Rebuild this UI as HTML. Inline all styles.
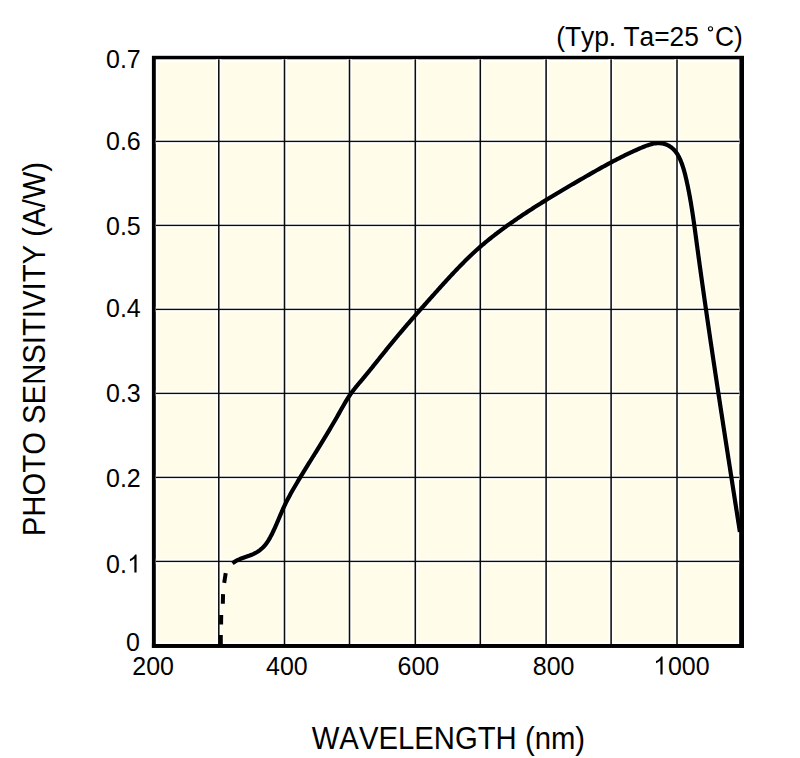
<!DOCTYPE html>
<html><head><meta charset="utf-8"><style>
html,body{margin:0;padding:0;background:#fff;width:800px;height:758px;overflow:hidden}
svg{display:block}
text{font-family:'Liberation Sans', sans-serif;fill:#000;font-kerning:none}
</style></head><body>
<svg width="800" height="758" viewBox="0 0 800 758">
<rect x="151.9" y="55.8" width="592.10" height="592.00" fill="#000"/>
<rect x="155.8" y="59.3" width="583.60" height="584.70" fill="#fff"/>
<rect x="157.9" y="61.9" width="579.10" height="580.00" fill="#FFFCE9"/>
<rect x="216.20" y="59.3" width="5.2" height="584.70" fill="#fff"/>
<rect x="281.90" y="59.3" width="5.2" height="584.70" fill="#fff"/>
<rect x="346.90" y="59.3" width="5.2" height="584.70" fill="#fff"/>
<rect x="412.70" y="59.3" width="5.2" height="584.70" fill="#fff"/>
<rect x="477.70" y="59.3" width="5.2" height="584.70" fill="#fff"/>
<rect x="543.50" y="59.3" width="5.2" height="584.70" fill="#fff"/>
<rect x="608.50" y="59.3" width="5.2" height="584.70" fill="#fff"/>
<rect x="674.40" y="59.3" width="5.2" height="584.70" fill="#fff"/>
<rect x="155.8" y="138.80" width="583.60" height="5.2" fill="#fff"/>
<rect x="155.8" y="222.80" width="583.60" height="5.2" fill="#fff"/>
<rect x="155.8" y="306.80" width="583.60" height="5.2" fill="#fff"/>
<rect x="155.8" y="390.80" width="583.60" height="5.2" fill="#fff"/>
<rect x="155.8" y="474.80" width="583.60" height="5.2" fill="#fff"/>
<rect x="155.8" y="558.80" width="583.60" height="5.2" fill="#fff"/>
<path d="M232.47 563.36 L233.60 562.47 L234.78 561.66 L236.00 560.93 L237.27 560.25 L238.58 559.63 L239.91 559.06 L241.27 558.52 L242.65 558.01 L244.05 557.51 L245.45 557.03 L246.85 556.54 L248.26 556.05 L249.65 555.55 L251.02 555.01 L252.38 554.45 L253.71 553.84 L255.02 553.19 L256.29 552.48 L257.52 551.73 L258.73 550.94 L259.89 550.09 L261.01 549.20 L262.09 548.26 L263.13 547.27 L264.12 546.23 L265.07 545.14 L265.97 544.01 L266.82 542.83 L267.64 541.63 L268.43 540.39 L269.19 539.13 L269.92 537.85 L270.62 536.55 L271.31 535.24 L271.98 533.93 L272.63 532.61 L273.27 531.28 L273.90 529.95 L274.51 528.62 L275.11 527.28 L275.71 525.94 L276.30 524.59 L276.88 523.25 L277.45 521.90 L278.03 520.55 L278.60 519.20 L279.16 517.85 L279.73 516.50 L280.30 515.15 L280.88 513.81 L281.46 512.46 L282.04 511.12 L282.63 509.79 L283.23 508.46 L283.84 507.13 L284.46 505.80 L285.09 504.49 L285.73 503.17 L286.38 501.87 L287.04 500.56 L287.71 499.27 L288.39 497.97 L289.07 496.68 L289.77 495.39 L290.47 494.11 L291.18 492.83 L291.90 491.56 L292.62 490.28 L293.35 489.02 L294.08 487.75 L294.82 486.48 L295.56 485.22 L296.30 483.96 L297.05 482.70 L297.81 481.45 L298.56 480.19 L299.32 478.94 L300.08 477.69 L300.84 476.44 L301.60 475.19 L302.36 473.94 L303.13 472.69 L303.89 471.44 L304.66 470.20 L305.42 468.95 L306.19 467.70 L306.96 466.46 L307.73 465.21 L308.49 463.97 L309.26 462.73 L310.03 461.48 L310.80 460.24 L311.57 459.00 L312.34 457.75 L313.11 456.51 L313.88 455.27 L314.65 454.02 L315.42 452.78 L316.19 451.54 L316.96 450.29 L317.72 449.05 L318.49 447.81 L319.26 446.56 L320.03 445.32 L320.79 444.07 L321.56 442.83 L322.32 441.58 L323.08 440.33 L323.84 439.08 L324.60 437.83 L325.36 436.58 L326.12 435.33 L326.88 434.08 L327.63 432.83 L328.38 431.58 L329.14 430.32 L329.89 429.07 L330.63 427.81 L331.38 426.55 L332.12 425.29 L332.87 424.03 L333.61 422.77 L334.34 421.50 L335.08 420.24 L335.81 418.97 L336.55 417.70 L337.27 416.43 L338.00 415.16 L338.72 413.88 L339.44 412.61 L340.16 411.33 L340.88 410.05 L341.60 408.77 L342.32 407.50 L343.05 406.23 L343.78 404.96 L344.51 403.69 L345.26 402.43 L346.01 401.18 L346.77 399.93 L347.54 398.69 L348.33 397.46 L349.13 396.24 L349.94 395.03 L350.77 393.84 L351.61 392.65 L352.47 391.48 L353.35 390.32 L354.24 389.16 L355.14 388.02 L356.06 386.88 L356.98 385.75 L357.91 384.62 L358.84 383.50 L359.78 382.38 L360.72 381.27 L361.66 380.15 L362.61 379.03 L363.55 377.91 L364.48 376.79 L365.42 375.66 L366.35 374.53 L367.28 373.40 L368.21 372.27 L369.14 371.13 L370.06 370.00 L370.98 368.86 L371.90 367.72 L372.82 366.58 L373.74 365.44 L374.66 364.30 L375.57 363.15 L376.49 362.01 L377.40 360.86 L378.32 359.72 L379.23 358.57 L380.15 357.43 L381.06 356.28 L381.97 355.14 L382.89 353.99 L383.80 352.85 L384.72 351.71 L385.64 350.57 L386.55 349.42 L387.47 348.28 L388.39 347.15 L389.31 346.01 L390.24 344.87 L391.16 343.74 L392.09 342.61 L393.02 341.48 L393.95 340.35 L394.88 339.23 L395.81 338.10 L396.75 336.98 L397.68 335.86 L398.62 334.74 L399.56 333.62 L400.51 332.51 L401.45 331.39 L402.40 330.28 L403.34 329.17 L404.29 328.06 L405.24 326.95 L406.19 325.84 L407.14 324.74 L408.10 323.63 L409.05 322.53 L410.01 321.43 L410.97 320.32 L411.93 319.22 L412.89 318.12 L413.85 317.02 L414.81 315.93 L415.77 314.83 L416.74 313.73 L417.70 312.64 L418.67 311.54 L419.63 310.45 L420.60 309.35 L421.57 308.26 L422.54 307.16 L423.51 306.07 L424.48 304.98 L425.45 303.89 L426.42 302.79 L427.40 301.70 L428.37 300.61 L429.34 299.52 L430.32 298.42 L431.29 297.33 L432.26 296.24 L433.24 295.15 L434.22 294.06 L435.19 292.96 L436.17 291.87 L437.15 290.78 L438.12 289.69 L439.10 288.60 L440.08 287.51 L441.06 286.42 L442.05 285.33 L443.03 284.24 L444.02 283.16 L445.00 282.07 L445.99 280.99 L446.98 279.91 L447.97 278.83 L448.97 277.75 L449.96 276.67 L450.96 275.60 L451.96 274.53 L452.96 273.46 L453.97 272.39 L454.97 271.33 L455.98 270.27 L456.99 269.21 L458.01 268.15 L459.03 267.10 L460.05 266.05 L461.07 265.00 L462.10 263.96 L463.13 262.92 L464.16 261.89 L465.20 260.86 L466.24 259.83 L467.28 258.81 L468.33 257.79 L469.38 256.78 L470.44 255.77 L471.50 254.76 L472.56 253.76 L473.63 252.77 L474.70 251.78 L475.78 250.79 L476.86 249.81 L477.94 248.84 L479.03 247.87 L480.13 246.91 L481.23 245.95 L482.33 245.00 L483.44 244.06 L484.56 243.12 L485.68 242.18 L486.80 241.25 L487.93 240.33 L489.06 239.41 L490.20 238.50 L491.34 237.59 L492.48 236.68 L493.63 235.79 L494.78 234.89 L495.94 234.00 L497.10 233.12 L498.26 232.23 L499.43 231.36 L500.60 230.48 L501.77 229.61 L502.95 228.75 L504.13 227.89 L505.31 227.03 L506.49 226.17 L507.68 225.32 L508.87 224.48 L510.06 223.63 L511.26 222.79 L512.46 221.95 L513.66 221.11 L514.86 220.28 L516.07 219.45 L517.28 218.63 L518.49 217.80 L519.70 216.98 L520.91 216.16 L522.13 215.35 L523.35 214.54 L524.57 213.73 L525.79 212.92 L527.01 212.12 L528.24 211.31 L529.47 210.51 L530.70 209.72 L531.93 208.92 L533.16 208.13 L534.40 207.34 L535.64 206.55 L536.87 205.77 L538.11 204.99 L539.35 204.21 L540.60 203.43 L541.84 202.65 L543.09 201.88 L544.33 201.11 L545.58 200.34 L546.83 199.57 L548.08 198.80 L549.33 198.04 L550.58 197.28 L551.83 196.52 L553.09 195.76 L554.34 195.00 L555.60 194.24 L556.85 193.49 L558.11 192.74 L559.37 191.99 L560.62 191.24 L561.88 190.49 L563.14 189.75 L564.40 189.00 L565.66 188.26 L566.92 187.52 L568.18 186.78 L569.44 186.04 L570.70 185.30 L571.96 184.56 L573.23 183.82 L574.49 183.09 L575.75 182.36 L577.01 181.62 L578.27 180.89 L579.53 180.16 L580.79 179.43 L582.05 178.70 L583.31 177.97 L584.57 177.24 L585.83 176.52 L587.09 175.79 L588.35 175.07 L589.61 174.34 L590.87 173.62 L592.14 172.90 L593.40 172.18 L594.66 171.46 L595.92 170.75 L597.19 170.03 L598.46 169.32 L599.72 168.61 L600.99 167.90 L602.26 167.20 L603.53 166.49 L604.81 165.79 L606.08 165.09 L607.36 164.40 L608.64 163.70 L609.92 163.01 L611.21 162.33 L612.50 161.64 L613.79 160.96 L615.08 160.28 L616.38 159.61 L617.68 158.94 L618.98 158.27 L620.29 157.61 L621.60 156.95 L622.91 156.29 L624.23 155.64 L625.55 154.99 L626.87 154.35 L628.20 153.71 L629.54 153.07 L630.88 152.44 L632.22 151.82 L633.57 151.19 L634.92 150.58 L636.28 149.97 L637.64 149.36 L639.01 148.76 L640.38 148.16 L641.76 147.57 L643.14 147.00 L644.53 146.44 L645.92 145.90 L647.32 145.39 L648.71 144.92 L650.11 144.50 L651.51 144.12 L652.91 143.79 L654.32 143.53 L655.72 143.33 L657.12 143.20 L658.52 143.16 L659.91 143.20 L661.31 143.32 L662.70 143.55 L664.08 143.88 L665.45 144.30 L666.80 144.82 L668.12 145.43 L669.40 146.13 L670.63 146.91 L671.80 147.78 L672.92 148.73 L673.97 149.75 L674.95 150.84 L675.87 151.98 L676.73 153.18 L677.53 154.42 L678.28 155.70 L678.97 157.02 L679.63 158.35 L680.24 159.71 L680.82 161.08 L681.37 162.46 L681.89 163.84 L682.38 165.23 L682.85 166.62 L683.30 168.02 L683.72 169.42 L684.13 170.82 L684.52 172.23 L684.89 173.65 L685.25 175.06 L685.59 176.48 L685.93 177.90 L686.26 179.32 L686.58 180.74 L686.90 182.17 L687.20 183.59 L687.51 185.02 L687.81 186.44 L688.10 187.87 L688.39 189.30 L688.67 190.73 L688.95 192.17 L689.22 193.60 L689.49 195.03 L689.75 196.47 L690.01 197.90 L690.27 199.34 L690.52 200.78 L690.76 202.22 L691.01 203.65 L691.25 205.09 L691.48 206.53 L691.71 207.98 L691.94 209.42 L692.17 210.86 L692.39 212.30 L692.61 213.75 L692.83 215.19 L693.05 216.64 L693.26 218.08 L693.47 219.53 L693.68 220.98 L693.89 222.42 L694.09 223.87 L694.29 225.32 L694.50 226.77 L694.70 228.21 L694.90 229.66 L695.09 231.11 L695.29 232.56 L695.49 234.01 L695.68 235.46 L695.88 236.91 L696.07 238.36 L696.27 239.81 L696.46 241.26 L696.66 242.71 L696.85 244.16 L697.05 245.61 L697.25 247.05 L697.44 248.50 L697.64 249.95 L697.84 251.40 L698.03 252.85 L698.23 254.30 L698.43 255.75 L698.63 257.20 L698.83 258.65 L699.03 260.10 L699.22 261.55 L699.42 263.00 L699.62 264.44 L699.82 265.89 L700.02 267.34 L700.23 268.79 L700.43 270.24 L700.63 271.69 L700.83 273.14 L701.03 274.59 L701.23 276.03 L701.44 277.48 L701.64 278.93 L701.84 280.38 L702.04 281.83 L702.25 283.28 L702.45 284.72 L702.66 286.17 L702.86 287.62 L703.07 289.07 L703.27 290.52 L703.48 291.97 L703.68 293.41 L703.89 294.86 L704.09 296.31 L704.30 297.76 L704.51 299.21 L704.71 300.65 L704.92 302.10 L705.13 303.55 L705.33 305.00 L705.54 306.45 L705.75 307.89 L705.96 309.34 L706.17 310.79 L706.38 312.24 L706.58 313.68 L706.79 315.13 L707.00 316.58 L707.21 318.03 L707.42 319.47 L707.63 320.92 L707.84 322.37 L708.06 323.82 L708.27 325.26 L708.48 326.71 L708.69 328.16 L708.90 329.61 L709.11 331.05 L709.32 332.50 L709.54 333.95 L709.75 335.39 L709.96 336.84 L710.17 338.29 L710.39 339.74 L710.60 341.18 L710.81 342.63 L711.03 344.08 L711.24 345.52 L711.46 346.97 L711.67 348.42 L711.89 349.86 L712.10 351.31 L712.31 352.76 L712.53 354.20 L712.75 355.65 L712.96 357.10 L713.18 358.54 L713.39 359.99 L713.61 361.44 L713.83 362.88 L714.04 364.33 L714.26 365.78 L714.47 367.22 L714.69 368.67 L714.91 370.12 L715.13 371.56 L715.34 373.01 L715.56 374.46 L715.78 375.90 L716.00 377.35 L716.22 378.79 L716.43 380.24 L716.65 381.69 L716.87 383.13 L717.09 384.58 L717.31 386.03 L717.53 387.47 L717.75 388.92 L717.97 390.36 L718.19 391.81 L718.41 393.26 L718.63 394.70 L718.85 396.15 L719.07 397.59 L719.29 399.04 L719.51 400.49 L719.73 401.93 L719.95 403.38 L720.17 404.82 L720.39 406.27 L720.61 407.72 L720.83 409.16 L721.05 410.61 L721.28 412.05 L721.50 413.50 L721.72 414.94 L721.94 416.39 L722.16 417.84 L722.38 419.28 L722.61 420.73 L722.83 422.17 L723.05 423.62 L723.27 425.06 L723.50 426.51 L723.72 427.96 L723.94 429.40 L724.16 430.85 L724.39 432.29 L724.61 433.74 L724.83 435.18 L725.06 436.63 L725.28 438.07 L725.50 439.52 L725.73 440.97 L725.95 442.41 L726.18 443.86 L726.40 445.30 L726.62 446.75 L726.85 448.19 L727.07 449.64 L727.30 451.08 L727.52 452.53 L727.74 453.97 L727.97 455.42 L728.19 456.86 L728.42 458.31 L728.64 459.76 L728.87 461.20 L729.09 462.65 L729.32 464.09 L729.54 465.54 L729.77 466.98 L729.99 468.43 L730.22 469.87 L730.44 471.32 L730.67 472.76 L730.89 474.21 L731.12 475.65 L731.34 477.10 L731.57 478.54 L731.79 479.99 L732.02 481.43 L732.24 482.88 L732.47 484.32 L732.69 485.77 L732.92 487.21 L733.14 488.66 L733.37 490.11 L733.59 491.55 L733.82 493.00 L734.05 494.44 L734.27 495.89 L734.50 497.33 L734.72 498.78 L734.95 500.22 L735.17 501.67 L735.40 503.11 L735.63 504.56 L735.85 506.00 L736.08 507.45 L736.30 508.89 L736.53 510.34 L736.75 511.78 L736.98 513.23 L737.21 514.67 L737.43 516.12 L737.66 517.56 L737.88 519.01 L738.11 520.45 L738.33 521.90 L738.56 523.34 L738.79 524.79 L739.01 526.23 L739.24 527.68 L739.46 529.12 L739.69 530.57 L739.91 532.01" fill="none" stroke="#fff" stroke-width="6.800000000000001" stroke-linejoin="round"/>
<line x1="225.7" y1="573.1" x2="224.2" y2="582.9" stroke="#fff" stroke-width="6.6"/>
<line x1="223.05" y1="594.1" x2="222.85" y2="603.7" stroke="#fff" stroke-width="6.6"/>
<line x1="221.2" y1="614.9" x2="221.1" y2="624.4" stroke="#fff" stroke-width="6.6"/>
<line x1="220.8" y1="635.0" x2="220.8" y2="645.0" stroke="#fff" stroke-width="6.6"/>
<rect x="218.03" y="59.3" width="1.54" height="584.70" fill="#0c0c06"/>
<rect x="283.73" y="59.3" width="1.54" height="584.70" fill="#0c0c06"/>
<rect x="348.73" y="59.3" width="1.54" height="584.70" fill="#0c0c06"/>
<rect x="414.53" y="59.3" width="1.54" height="584.70" fill="#0c0c06"/>
<rect x="479.53" y="59.3" width="1.54" height="584.70" fill="#0c0c06"/>
<rect x="545.33" y="59.3" width="1.54" height="584.70" fill="#0c0c06"/>
<rect x="610.33" y="59.3" width="1.54" height="584.70" fill="#0c0c06"/>
<rect x="676.23" y="59.3" width="1.54" height="584.70" fill="#0c0c06"/>
<rect x="155.8" y="140.72" width="583.60" height="1.36" fill="#0c0c06"/>
<rect x="155.8" y="224.72" width="583.60" height="1.36" fill="#0c0c06"/>
<rect x="155.8" y="308.72" width="583.60" height="1.36" fill="#0c0c06"/>
<rect x="155.8" y="392.72" width="583.60" height="1.36" fill="#0c0c06"/>
<rect x="155.8" y="476.72" width="583.60" height="1.36" fill="#0c0c06"/>
<rect x="155.8" y="560.72" width="583.60" height="1.36" fill="#0c0c06"/>
<path d="M232.47 563.36 L233.60 562.47 L234.78 561.66 L236.00 560.93 L237.27 560.25 L238.58 559.63 L239.91 559.06 L241.27 558.52 L242.65 558.01 L244.05 557.51 L245.45 557.03 L246.85 556.54 L248.26 556.05 L249.65 555.55 L251.02 555.01 L252.38 554.45 L253.71 553.84 L255.02 553.19 L256.29 552.48 L257.52 551.73 L258.73 550.94 L259.89 550.09 L261.01 549.20 L262.09 548.26 L263.13 547.27 L264.12 546.23 L265.07 545.14 L265.97 544.01 L266.82 542.83 L267.64 541.63 L268.43 540.39 L269.19 539.13 L269.92 537.85 L270.62 536.55 L271.31 535.24 L271.98 533.93 L272.63 532.61 L273.27 531.28 L273.90 529.95 L274.51 528.62 L275.11 527.28 L275.71 525.94 L276.30 524.59 L276.88 523.25 L277.45 521.90 L278.03 520.55 L278.60 519.20 L279.16 517.85 L279.73 516.50 L280.30 515.15 L280.88 513.81 L281.46 512.46 L282.04 511.12 L282.63 509.79 L283.23 508.46 L283.84 507.13 L284.46 505.80 L285.09 504.49 L285.73 503.17 L286.38 501.87 L287.04 500.56 L287.71 499.27 L288.39 497.97 L289.07 496.68 L289.77 495.39 L290.47 494.11 L291.18 492.83 L291.90 491.56 L292.62 490.28 L293.35 489.02 L294.08 487.75 L294.82 486.48 L295.56 485.22 L296.30 483.96 L297.05 482.70 L297.81 481.45 L298.56 480.19 L299.32 478.94 L300.08 477.69 L300.84 476.44 L301.60 475.19 L302.36 473.94 L303.13 472.69 L303.89 471.44 L304.66 470.20 L305.42 468.95 L306.19 467.70 L306.96 466.46 L307.73 465.21 L308.49 463.97 L309.26 462.73 L310.03 461.48 L310.80 460.24 L311.57 459.00 L312.34 457.75 L313.11 456.51 L313.88 455.27 L314.65 454.02 L315.42 452.78 L316.19 451.54 L316.96 450.29 L317.72 449.05 L318.49 447.81 L319.26 446.56 L320.03 445.32 L320.79 444.07 L321.56 442.83 L322.32 441.58 L323.08 440.33 L323.84 439.08 L324.60 437.83 L325.36 436.58 L326.12 435.33 L326.88 434.08 L327.63 432.83 L328.38 431.58 L329.14 430.32 L329.89 429.07 L330.63 427.81 L331.38 426.55 L332.12 425.29 L332.87 424.03 L333.61 422.77 L334.34 421.50 L335.08 420.24 L335.81 418.97 L336.55 417.70 L337.27 416.43 L338.00 415.16 L338.72 413.88 L339.44 412.61 L340.16 411.33 L340.88 410.05 L341.60 408.77 L342.32 407.50 L343.05 406.23 L343.78 404.96 L344.51 403.69 L345.26 402.43 L346.01 401.18 L346.77 399.93 L347.54 398.69 L348.33 397.46 L349.13 396.24 L349.94 395.03 L350.77 393.84 L351.61 392.65 L352.47 391.48 L353.35 390.32 L354.24 389.16 L355.14 388.02 L356.06 386.88 L356.98 385.75 L357.91 384.62 L358.84 383.50 L359.78 382.38 L360.72 381.27 L361.66 380.15 L362.61 379.03 L363.55 377.91 L364.48 376.79 L365.42 375.66 L366.35 374.53 L367.28 373.40 L368.21 372.27 L369.14 371.13 L370.06 370.00 L370.98 368.86 L371.90 367.72 L372.82 366.58 L373.74 365.44 L374.66 364.30 L375.57 363.15 L376.49 362.01 L377.40 360.86 L378.32 359.72 L379.23 358.57 L380.15 357.43 L381.06 356.28 L381.97 355.14 L382.89 353.99 L383.80 352.85 L384.72 351.71 L385.64 350.57 L386.55 349.42 L387.47 348.28 L388.39 347.15 L389.31 346.01 L390.24 344.87 L391.16 343.74 L392.09 342.61 L393.02 341.48 L393.95 340.35 L394.88 339.23 L395.81 338.10 L396.75 336.98 L397.68 335.86 L398.62 334.74 L399.56 333.62 L400.51 332.51 L401.45 331.39 L402.40 330.28 L403.34 329.17 L404.29 328.06 L405.24 326.95 L406.19 325.84 L407.14 324.74 L408.10 323.63 L409.05 322.53 L410.01 321.43 L410.97 320.32 L411.93 319.22 L412.89 318.12 L413.85 317.02 L414.81 315.93 L415.77 314.83 L416.74 313.73 L417.70 312.64 L418.67 311.54 L419.63 310.45 L420.60 309.35 L421.57 308.26 L422.54 307.16 L423.51 306.07 L424.48 304.98 L425.45 303.89 L426.42 302.79 L427.40 301.70 L428.37 300.61 L429.34 299.52 L430.32 298.42 L431.29 297.33 L432.26 296.24 L433.24 295.15 L434.22 294.06 L435.19 292.96 L436.17 291.87 L437.15 290.78 L438.12 289.69 L439.10 288.60 L440.08 287.51 L441.06 286.42 L442.05 285.33 L443.03 284.24 L444.02 283.16 L445.00 282.07 L445.99 280.99 L446.98 279.91 L447.97 278.83 L448.97 277.75 L449.96 276.67 L450.96 275.60 L451.96 274.53 L452.96 273.46 L453.97 272.39 L454.97 271.33 L455.98 270.27 L456.99 269.21 L458.01 268.15 L459.03 267.10 L460.05 266.05 L461.07 265.00 L462.10 263.96 L463.13 262.92 L464.16 261.89 L465.20 260.86 L466.24 259.83 L467.28 258.81 L468.33 257.79 L469.38 256.78 L470.44 255.77 L471.50 254.76 L472.56 253.76 L473.63 252.77 L474.70 251.78 L475.78 250.79 L476.86 249.81 L477.94 248.84 L479.03 247.87 L480.13 246.91 L481.23 245.95 L482.33 245.00 L483.44 244.06 L484.56 243.12 L485.68 242.18 L486.80 241.25 L487.93 240.33 L489.06 239.41 L490.20 238.50 L491.34 237.59 L492.48 236.68 L493.63 235.79 L494.78 234.89 L495.94 234.00 L497.10 233.12 L498.26 232.23 L499.43 231.36 L500.60 230.48 L501.77 229.61 L502.95 228.75 L504.13 227.89 L505.31 227.03 L506.49 226.17 L507.68 225.32 L508.87 224.48 L510.06 223.63 L511.26 222.79 L512.46 221.95 L513.66 221.11 L514.86 220.28 L516.07 219.45 L517.28 218.63 L518.49 217.80 L519.70 216.98 L520.91 216.16 L522.13 215.35 L523.35 214.54 L524.57 213.73 L525.79 212.92 L527.01 212.12 L528.24 211.31 L529.47 210.51 L530.70 209.72 L531.93 208.92 L533.16 208.13 L534.40 207.34 L535.64 206.55 L536.87 205.77 L538.11 204.99 L539.35 204.21 L540.60 203.43 L541.84 202.65 L543.09 201.88 L544.33 201.11 L545.58 200.34 L546.83 199.57 L548.08 198.80 L549.33 198.04 L550.58 197.28 L551.83 196.52 L553.09 195.76 L554.34 195.00 L555.60 194.24 L556.85 193.49 L558.11 192.74 L559.37 191.99 L560.62 191.24 L561.88 190.49 L563.14 189.75 L564.40 189.00 L565.66 188.26 L566.92 187.52 L568.18 186.78 L569.44 186.04 L570.70 185.30 L571.96 184.56 L573.23 183.82 L574.49 183.09 L575.75 182.36 L577.01 181.62 L578.27 180.89 L579.53 180.16 L580.79 179.43 L582.05 178.70 L583.31 177.97 L584.57 177.24 L585.83 176.52 L587.09 175.79 L588.35 175.07 L589.61 174.34 L590.87 173.62 L592.14 172.90 L593.40 172.18 L594.66 171.46 L595.92 170.75 L597.19 170.03 L598.46 169.32 L599.72 168.61 L600.99 167.90 L602.26 167.20 L603.53 166.49 L604.81 165.79 L606.08 165.09 L607.36 164.40 L608.64 163.70 L609.92 163.01 L611.21 162.33 L612.50 161.64 L613.79 160.96 L615.08 160.28 L616.38 159.61 L617.68 158.94 L618.98 158.27 L620.29 157.61 L621.60 156.95 L622.91 156.29 L624.23 155.64 L625.55 154.99 L626.87 154.35 L628.20 153.71 L629.54 153.07 L630.88 152.44 L632.22 151.82 L633.57 151.19 L634.92 150.58 L636.28 149.97 L637.64 149.36 L639.01 148.76 L640.38 148.16 L641.76 147.57 L643.14 147.00 L644.53 146.44 L645.92 145.90 L647.32 145.39 L648.71 144.92 L650.11 144.50 L651.51 144.12 L652.91 143.79 L654.32 143.53 L655.72 143.33 L657.12 143.20 L658.52 143.16 L659.91 143.20 L661.31 143.32 L662.70 143.55 L664.08 143.88 L665.45 144.30 L666.80 144.82 L668.12 145.43 L669.40 146.13 L670.63 146.91 L671.80 147.78 L672.92 148.73 L673.97 149.75 L674.95 150.84 L675.87 151.98 L676.73 153.18 L677.53 154.42 L678.28 155.70 L678.97 157.02 L679.63 158.35 L680.24 159.71 L680.82 161.08 L681.37 162.46 L681.89 163.84 L682.38 165.23 L682.85 166.62 L683.30 168.02 L683.72 169.42 L684.13 170.82 L684.52 172.23 L684.89 173.65 L685.25 175.06 L685.59 176.48 L685.93 177.90 L686.26 179.32 L686.58 180.74 L686.90 182.17 L687.20 183.59 L687.51 185.02 L687.81 186.44 L688.10 187.87 L688.39 189.30 L688.67 190.73 L688.95 192.17 L689.22 193.60 L689.49 195.03 L689.75 196.47 L690.01 197.90 L690.27 199.34 L690.52 200.78 L690.76 202.22 L691.01 203.65 L691.25 205.09 L691.48 206.53 L691.71 207.98 L691.94 209.42 L692.17 210.86 L692.39 212.30 L692.61 213.75 L692.83 215.19 L693.05 216.64 L693.26 218.08 L693.47 219.53 L693.68 220.98 L693.89 222.42 L694.09 223.87 L694.29 225.32 L694.50 226.77 L694.70 228.21 L694.90 229.66 L695.09 231.11 L695.29 232.56 L695.49 234.01 L695.68 235.46 L695.88 236.91 L696.07 238.36 L696.27 239.81 L696.46 241.26 L696.66 242.71 L696.85 244.16 L697.05 245.61 L697.25 247.05 L697.44 248.50 L697.64 249.95 L697.84 251.40 L698.03 252.85 L698.23 254.30 L698.43 255.75 L698.63 257.20 L698.83 258.65 L699.03 260.10 L699.22 261.55 L699.42 263.00 L699.62 264.44 L699.82 265.89 L700.02 267.34 L700.23 268.79 L700.43 270.24 L700.63 271.69 L700.83 273.14 L701.03 274.59 L701.23 276.03 L701.44 277.48 L701.64 278.93 L701.84 280.38 L702.04 281.83 L702.25 283.28 L702.45 284.72 L702.66 286.17 L702.86 287.62 L703.07 289.07 L703.27 290.52 L703.48 291.97 L703.68 293.41 L703.89 294.86 L704.09 296.31 L704.30 297.76 L704.51 299.21 L704.71 300.65 L704.92 302.10 L705.13 303.55 L705.33 305.00 L705.54 306.45 L705.75 307.89 L705.96 309.34 L706.17 310.79 L706.38 312.24 L706.58 313.68 L706.79 315.13 L707.00 316.58 L707.21 318.03 L707.42 319.47 L707.63 320.92 L707.84 322.37 L708.06 323.82 L708.27 325.26 L708.48 326.71 L708.69 328.16 L708.90 329.61 L709.11 331.05 L709.32 332.50 L709.54 333.95 L709.75 335.39 L709.96 336.84 L710.17 338.29 L710.39 339.74 L710.60 341.18 L710.81 342.63 L711.03 344.08 L711.24 345.52 L711.46 346.97 L711.67 348.42 L711.89 349.86 L712.10 351.31 L712.31 352.76 L712.53 354.20 L712.75 355.65 L712.96 357.10 L713.18 358.54 L713.39 359.99 L713.61 361.44 L713.83 362.88 L714.04 364.33 L714.26 365.78 L714.47 367.22 L714.69 368.67 L714.91 370.12 L715.13 371.56 L715.34 373.01 L715.56 374.46 L715.78 375.90 L716.00 377.35 L716.22 378.79 L716.43 380.24 L716.65 381.69 L716.87 383.13 L717.09 384.58 L717.31 386.03 L717.53 387.47 L717.75 388.92 L717.97 390.36 L718.19 391.81 L718.41 393.26 L718.63 394.70 L718.85 396.15 L719.07 397.59 L719.29 399.04 L719.51 400.49 L719.73 401.93 L719.95 403.38 L720.17 404.82 L720.39 406.27 L720.61 407.72 L720.83 409.16 L721.05 410.61 L721.28 412.05 L721.50 413.50 L721.72 414.94 L721.94 416.39 L722.16 417.84 L722.38 419.28 L722.61 420.73 L722.83 422.17 L723.05 423.62 L723.27 425.06 L723.50 426.51 L723.72 427.96 L723.94 429.40 L724.16 430.85 L724.39 432.29 L724.61 433.74 L724.83 435.18 L725.06 436.63 L725.28 438.07 L725.50 439.52 L725.73 440.97 L725.95 442.41 L726.18 443.86 L726.40 445.30 L726.62 446.75 L726.85 448.19 L727.07 449.64 L727.30 451.08 L727.52 452.53 L727.74 453.97 L727.97 455.42 L728.19 456.86 L728.42 458.31 L728.64 459.76 L728.87 461.20 L729.09 462.65 L729.32 464.09 L729.54 465.54 L729.77 466.98 L729.99 468.43 L730.22 469.87 L730.44 471.32 L730.67 472.76 L730.89 474.21 L731.12 475.65 L731.34 477.10 L731.57 478.54 L731.79 479.99 L732.02 481.43 L732.24 482.88 L732.47 484.32 L732.69 485.77 L732.92 487.21 L733.14 488.66 L733.37 490.11 L733.59 491.55 L733.82 493.00 L734.05 494.44 L734.27 495.89 L734.50 497.33 L734.72 498.78 L734.95 500.22 L735.17 501.67 L735.40 503.11 L735.63 504.56 L735.85 506.00 L736.08 507.45 L736.30 508.89 L736.53 510.34 L736.75 511.78 L736.98 513.23 L737.21 514.67 L737.43 516.12 L737.66 517.56 L737.88 519.01 L738.11 520.45 L738.33 521.90 L738.56 523.34 L738.79 524.79 L739.01 526.23 L739.24 527.68 L739.46 529.12 L739.69 530.57 L739.91 532.01" fill="none" stroke="#000" stroke-width="4.2" stroke-linejoin="round"/>
<line x1="225.7" y1="573.1" x2="224.2" y2="582.9" stroke="#000" stroke-width="4.0"/>
<line x1="223.05" y1="594.1" x2="222.85" y2="603.7" stroke="#000" stroke-width="4.0"/>
<line x1="221.2" y1="614.9" x2="221.1" y2="624.4" stroke="#000" stroke-width="4.0"/>
<line x1="220.8" y1="635.0" x2="220.8" y2="645.0" stroke="#000" stroke-width="4.0"/>
<rect x="151.9" y="644.0" width="592.10" height="3.80" fill="#000"/>
<rect x="739.4" y="480" width="4.60" height="167.80" fill="#000"/>
<circle cx="710.5" cy="28.8" r="2.05" fill="none" stroke="#000" stroke-width="1.15"/>
<text transform="translate(106.0 67.6) scale(1.0 1.06)" font-size="25">0.7</text>
<text transform="translate(106.0 149.8) scale(1.0 1.06)" font-size="25">0.6</text>
<text transform="translate(106.0 234.8) scale(1.0 1.06)" font-size="25">0.5</text>
<text transform="translate(106.0 317.0) scale(1.0 1.06)" font-size="25">0.4</text>
<text transform="translate(106.0 401.7) scale(1.0 1.06)" font-size="25">0.3</text>
<text transform="translate(106.0 486.7) scale(1.0 1.06)" font-size="25">0.2</text>
<text transform="translate(106.0 572.6) scale(1.0 1.06)" font-size="25">0.</text>
<path transform="translate(127.25 572.6) scale(0.012207 -0.012268)" d="M763 0L583 0L583 1147Q518 1085 412 1023Q306 961 223 930L223 1104Q372 1174 484 1274Q596 1374 643 1466L763 1466Z"/>
<text transform="translate(126.0 650.7) scale(1.0 1.06)" font-size="25">0</text>
<text transform="translate(132.25 674.6) scale(1.0 1.06)" font-size="25">200</text>
<text transform="translate(266.0 674.6) scale(1.0 1.06)" font-size="25">400</text>
<text transform="translate(397.5 674.6) scale(1.0 1.06)" font-size="25">600</text>
<text transform="translate(532.75 674.6) scale(1.0 1.06)" font-size="25">800</text>
<path transform="translate(653.28 674.6) scale(0.012207 -0.012268)" d="M763 0L583 0L583 1147Q518 1085 412 1023Q306 961 223 930L223 1104Q372 1174 484 1274Q596 1374 643 1466L763 1466Z"/>
<text transform="translate(667.88380859375 674.6) scale(1.0 1.06)" font-size="25">000</text>
<text transform="translate(311.73 748.8) scale(1.0 1.045)" font-size="29.3">WAVELENGTH (nm)</text>
<text transform="translate(556.14 45.8) scale(1.0 1.05)" font-size="26.35">(Typ. Ta=25</text>
<text transform="translate(715.01 45.8) scale(1.0 1.05)" font-size="26.35">C)</text>
<text transform="translate(44.8 536.2) rotate(-90) scale(1 1.045)" font-size="29.3">PHOTO SENSITIVITY (A/W)</text>
</svg>
</body></html>
